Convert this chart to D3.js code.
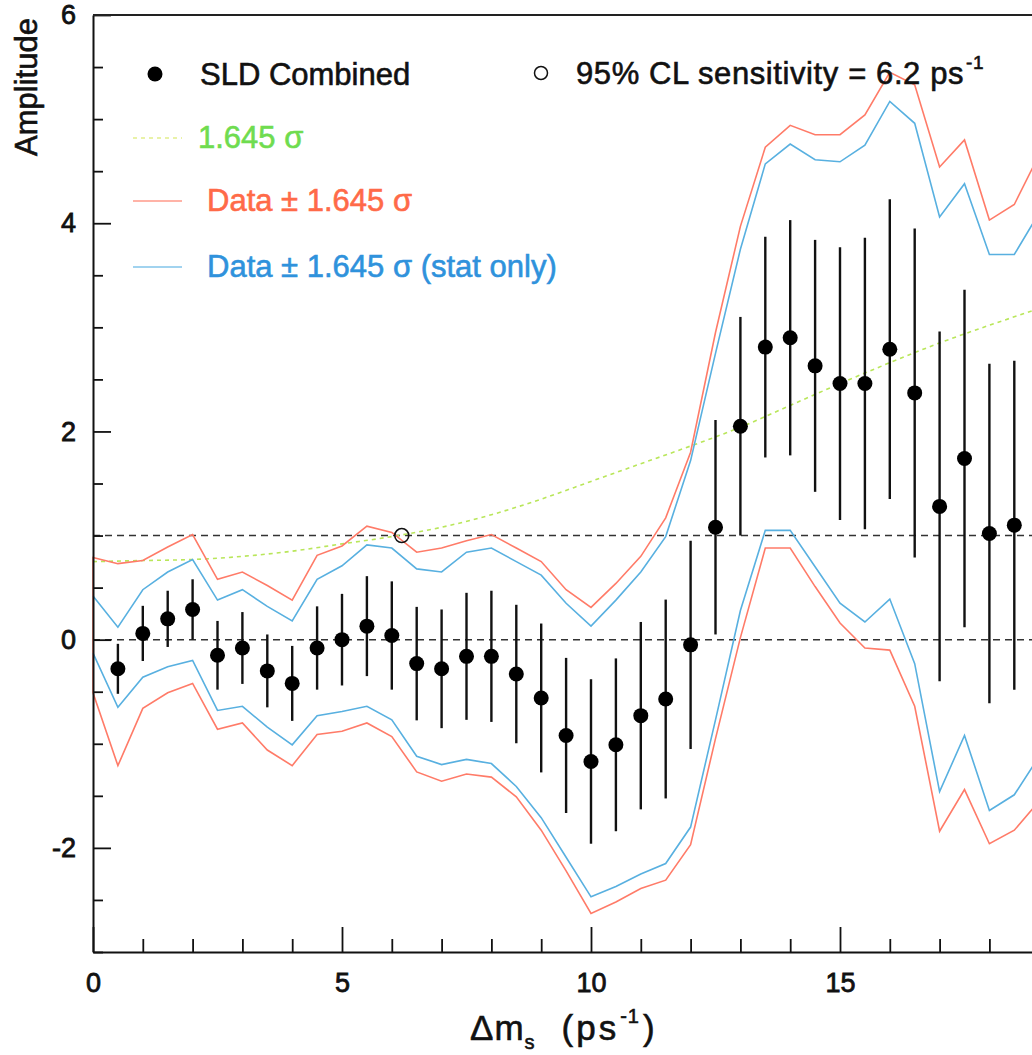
<!DOCTYPE html>
<html>
<head>
<meta charset="utf-8">
<script src="https://cdn.jsdelivr.net/npm/d3@7.9.0/dist/d3.min.js"></script>
<style>
  body { margin: 0; background: #fff; }
  svg { display: block; font-family: "Liberation Sans", Arial, Helvetica, sans-serif; }
</style>
</head>
<body>
<svg id="chart" width="1032" height="1055"></svg>
<script>
// SLD combined amplitude points (delta m_s in ps^-1)
const dms = [0.5, 1, 1.5, 2, 2.5, 3, 3.5, 4, 4.5, 5, 5.5, 6, 6.5, 7, 7.5, 8, 8.5, 9, 9.5,
  10, 10.5, 11, 11.5, 12, 12.5, 13, 13.5, 14, 14.5, 15, 15.5, 16, 16.5, 17, 17.5, 18, 18.5];
const amplitude = [-0.28, 0.06, 0.20, 0.29, -0.15, -0.08, -0.30, -0.42, -0.08, 0.00, 0.13, 0.04,
  -0.23, -0.28, -0.16, -0.16, -0.33, -0.56, -0.92, -1.17, -1.01, -0.73, -0.57, -0.05, 1.08,
  2.05, 2.81, 2.90, 2.63, 2.46, 2.46, 2.79, 2.37, 1.28, 1.74, 1.02, 1.10];
const amplitudeErr = [0.24, 0.265, 0.27, 0.29, 0.33, 0.345, 0.35, 0.36, 0.40, 0.44, 0.48, 0.52,
  0.545, 0.57, 0.61, 0.63, 0.665, 0.715, 0.745, 0.79, 0.83, 0.90, 0.955, 1.0, 1.03,
  1.05, 1.06, 1.13, 1.21, 1.31, 1.40, 1.44, 1.58, 1.68, 1.62, 1.63, 1.58];

// band curves, sampled every 0.5 from 0 to 19
const bandX = [0, 0.5, 1, 1.5, 2, 2.5, 3, 3.5, 4, 4.5, 5, 5.5, 6, 6.5, 7, 7.5, 8, 8.5, 9, 9.5,
  10, 10.5, 11, 11.5, 12, 12.5, 13, 13.5, 14, 14.5, 15, 15.5, 16, 16.5, 17, 17.5, 18, 18.5, 19];
const redUpper = [0.79, 0.73, 0.76, 0.89, 1.01, 0.58, 0.65, 0.52, 0.38, 0.81, 0.90, 1.09, 1.03,
  0.84, 0.88, 0.95, 1.01, 0.88, 0.75, 0.48, 0.31, 0.54, 0.80, 1.17, 1.80, 2.95, 3.97, 4.73,
  4.94, 4.85, 4.85, 5.04, 5.45, 5.33, 4.54, 4.80, 4.03, 4.18, 4.66];
const redLower = [-0.51, -1.21, -0.66, -0.51, -0.42, -0.86, -0.80, -1.06, -1.21, -0.91, -0.88,
  -0.80, -0.93, -1.27, -1.36, -1.29, -1.32, -1.51, -1.83, -2.22, -2.63, -2.52, -2.39, -2.31,
  -1.97, -0.95, 0.02, 0.88, 0.88, 0.51, 0.16, -0.08, -0.10, -0.64, -1.84, -1.44, -1.96, -1.83, -1.55];
const blueUpper = [0.42, 0.12, 0.48, 0.65, 0.77, 0.38, 0.48, 0.32, 0.18, 0.58, 0.71, 0.91, 0.88,
  0.68, 0.65, 0.84, 0.88, 0.75, 0.62, 0.35, 0.13, 0.38, 0.65, 0.99, 1.72, 2.75, 3.75, 4.57,
  4.76, 4.61, 4.59, 4.75, 5.17, 4.96, 4.06, 4.38, 3.70, 3.70, 4.10];
const blueLower = [-0.13, -0.65, -0.36, -0.26, -0.20, -0.68, -0.64, -0.84, -1.01, -0.73, -0.69,
  -0.64, -0.77, -1.12, -1.20, -1.15, -1.19, -1.41, -1.71, -2.09, -2.47, -2.37, -2.25, -2.15,
  -1.80, -0.77, 0.28, 1.05, 1.05, 0.70, 0.35, 0.17, 0.39, -0.23, -1.46, -0.92, -1.64, -1.49, -1.12];

// 1.645 sigma curve
const sigmaX = [0, 1, 2, 3, 4, 5, 6, 7, 8, 9, 10, 11, 12, 13, 14, 15, 16, 17, 18, 19];
const sigma1645 = [0.75, 0.76, 0.77, 0.80, 0.85, 0.92, 0.99, 1.08, 1.20, 1.35, 1.52, 1.69,
  1.86, 2.04, 2.25, 2.46, 2.66, 2.85, 3.02, 3.18];

const sensitivity = { x: 6.2, y: 1.0 };
const refLines = [0, 1];

const xMajor = [0, 5, 10, 15];
const yMajor = [-2, 0, 2, 4, 6];

const RED = '#ff7b68';
const BLUE = '#58b0e0';
const GREEN = '#b9e65a';

const svg = d3.select('#chart');

const x = d3.scaleLinear().domain([0, 20]).range([93, 1089]);
const y = d3.scaleLinear().domain([-3, 6]).range([952, 15]);

// dashed reference lines
svg.selectAll('line.ref')
  .data(refLines)
  .join('line')
  .attr('class', 'ref')
  .attr('x1', x(0)).attr('x2', 1032)
  .attr('y1', d => y(d)).attr('y2', d => y(d))
  .attr('stroke', '#333')
  .attr('stroke-width', 1.5)
  .attr('stroke-dasharray', '7,5');

const line = d3.line().x(d => x(d[0])).y(d => y(d[1]));

// 1.645 sigma
svg.append('path')
  .datum(d3.zip(sigmaX, sigma1645))
  .attr('d', line.curve(d3.curveMonotoneX))
  .attr('fill', 'none')
  .attr('stroke', GREEN)
  .attr('stroke-width', 1.6)
  .attr('stroke-dasharray', '4,4');
line.curve(d3.curveLinear);

// red band drawn as one outline (lower reversed, then upper), closes at x=0
const redPts = d3.zip(bandX, redLower).reverse().concat(d3.zip(bandX, redUpper));
svg.append('path')
  .datum(redPts)
  .attr('d', line)
  .attr('fill', 'none')
  .attr('stroke', RED)
  .attr('stroke-width', 1.6);

[blueUpper, blueLower].forEach(vals => {
  svg.append('path')
    .datum(d3.zip(bandX, vals))
    .attr('d', line)
    .attr('fill', 'none')
    .attr('stroke', BLUE)
    .attr('stroke-width', 1.6);
});

// error bars + points
const pts = dms.map((d, i) => ({ x: d, a: amplitude[i], e: amplitudeErr[i] }));

svg.selectAll('line.err')
  .data(pts)
  .join('line')
  .attr('class', 'err')
  .attr('x1', d => x(d.x)).attr('x2', d => x(d.x))
  .attr('y1', d => y(d.a + d.e)).attr('y2', d => y(d.a - d.e))
  .attr('stroke', '#111')
  .attr('stroke-width', 2.4);

svg.selectAll('circle.pt')
  .data(pts)
  .join('circle')
  .attr('class', 'pt')
  .attr('cx', d => x(d.x))
  .attr('cy', d => y(d.a))
  .attr('r', 7.5)
  .attr('fill', '#000');

svg.append('circle')
  .attr('cx', x(sensitivity.x))
  .attr('cy', y(sensitivity.y))
  .attr('r', 7)
  .attr('fill', 'none')
  .attr('stroke', '#111')
  .attr('stroke-width', 1.6);

// axes
const yMinor = d3.range(-3, 6.01, 0.5).filter(v => !yMajor.includes(v));
const xMinor = d3.range(0, 20, 1).filter(v => !xMajor.includes(v));

const yAxis = svg.append('g')
  .attr('transform', `translate(${x(0)},0)`)
  .call(d3.axisLeft(y).tickValues(yMajor).tickSize(-18).tickSizeOuter(0).tickPadding(17)
    .tickFormat(d => String(d)));
svg.append('g')
  .attr('transform', `translate(${x(0)},0)`)
  .call(d3.axisLeft(y).tickValues(yMinor).tickSize(-10).tickSizeOuter(0).tickFormat(''))
  .call(g => g.select('.domain').remove());

const xAxis = svg.append('g')
  .attr('transform', `translate(0,${y(-3)})`)
  .call(d3.axisBottom(x).tickValues(xMajor).tickSize(-25).tickSizeOuter(0).tickPadding(21));
svg.append('g')
  .attr('transform', `translate(0,${y(-3)})`)
  .call(d3.axisBottom(x).tickValues(xMinor).tickSize(-13).tickSizeOuter(0).tickFormat(''))
  .call(g => g.select('.domain').remove());

svg.selectAll('.tick line').attr('stroke', '#111').attr('stroke-width', 1.8);
svg.selectAll('.domain').attr('stroke', '#111').attr('stroke-width', 2);
[yAxis, xAxis].forEach(g => g.selectAll('text')
  .attr('font-size', 27)
  .attr('font-family', '"Liberation Sans", Arial, sans-serif')
  .attr('fill', '#111')
  .attr('stroke', '#111')
  .attr('stroke-width', 0.8));

// top frame line
svg.append('line')
  .attr('x1', x(0)).attr('x2', 1032)
  .attr('y1', y(6)).attr('y2', y(6))
  .attr('stroke', '#222')
  .attr('stroke-width', 2);

// axis titles
svg.append('text')
  .attr('transform', 'translate(37,87) rotate(-90)')
  .attr('text-anchor', 'middle')
  .attr('font-size', 31)
  .attr('fill', '#111').attr('stroke', '#111').attr('stroke-width', 0.6)
  .text('Amplitude');

const xt = svg.append('text')
  .attr('x', 470).attr('y', 1040)
  .attr('font-size', 35)
  .attr('letter-spacing', 1)
  .attr('fill', '#111').attr('stroke', '#111').attr('stroke-width', 0.6);
xt.append('tspan').text('Δm');
xt.append('tspan').attr('font-size', 20).attr('dy', 9).text('s');
xt.append('tspan').attr('dx', 26).attr('dy', -9).attr('letter-spacing', 3).text('(ps');
xt.append('tspan').attr('font-size', 20).attr('dy', -17).attr('dx', 1).text('-1');
xt.append('tspan').attr('dy', 17).attr('dx', 3).text(')');

// legend
const lg = svg.append('g')
  .attr('font-size', 31)
  .attr('stroke-width', 0.6);

lg.append('circle').attr('cx', 155).attr('cy', 74).attr('r', 7.5).attr('fill', '#000');
lg.append('text').attr('x', 200).attr('y', 85).attr('fill', '#111').attr('stroke', '#111')
  .text('SLD Combined');

lg.append('circle').attr('cx', 541).attr('cy', 73).attr('r', 6.5)
  .attr('fill', 'none').attr('stroke', '#111').attr('stroke-width', 1.5);
const st = lg.append('text').attr('x', 576).attr('y', 84).attr('fill', '#111').attr('stroke', '#111')
  .attr('letter-spacing', 0.6);
st.append('tspan').text('95% CL sensitivity = 6.2 ps');
st.append('tspan').attr('font-size', 19).attr('dy', -15).attr('dx', 2).text('-1');

const legendRows = [
  { label: '1.645 σ', line: '#e2ee8c', text: '#6fdc4f', y: 138, tx: 198, dash: '4,4' },
  { label: 'Data ± 1.645 σ', line: '#ff9a8a', text: '#ff6a48', y: 201, tx: 207, dash: null },
  { label: 'Data ± 1.645 σ (stat only)', line: '#82c4ea', text: '#2f92dc', y: 267, tx: 207, dash: null }
];

legendRows.forEach(r => {
  lg.append('line')
    .attr('x1', 133).attr('x2', 182)
    .attr('y1', r.y).attr('y2', r.y)
    .attr('stroke', r.line)
    .attr('stroke-width', 1.6)
    .attr('stroke-dasharray', r.dash);
  lg.append('text')
    .attr('x', r.tx).attr('y', r.y + 10)
    .attr('fill', r.text).attr('stroke', r.text)
    .text(r.label);
});
</script>
</body>
</html>
